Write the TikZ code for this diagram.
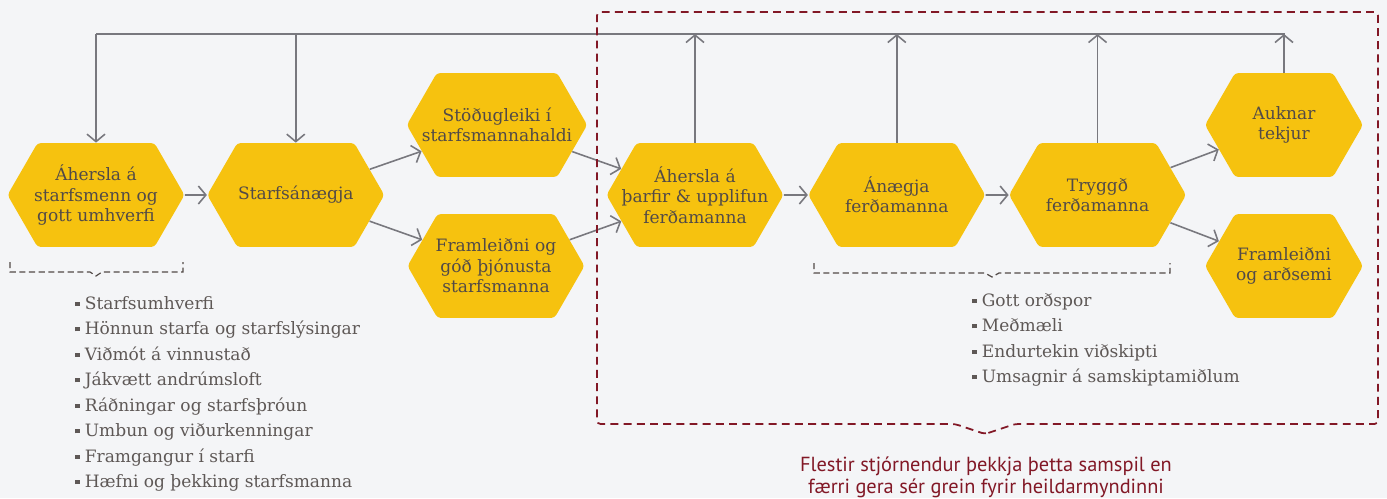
\documentclass[tikz,border=0pt]{standalone}
\usepackage{fontspec}
\setmainfont{DejaVu Serif}
\newfontfamily\notefont{PT Sans}
\usetikzlibrary{shapes.symbols, arrows.meta, positioning}

\definecolor{hexyellow}{HTML}{F6C20F}
\definecolor{hextext}{HTML}{524A47}
\definecolor{listgray}{HTML}{5E5856}
\definecolor{linegray}{HTML}{78787E}
\definecolor{darkred}{HTML}{821826}
\definecolor{paper}{HTML}{F4F5F7}

\newcommand{\listbullet}{\raisebox{0.2em}{\rule{2.4pt}{2.4pt}}\hspace{3pt}}

\begin{document}
\begin{tikzpicture}[
    x=0.02cm, y=-0.02cm,
    hexagon/.style={signal, signal to=west and east, signal pointer angle=120,
        fill=hexyellow, rounded corners=2pt, text=hextext, align=center,
        inner xsep=-0.3cm, inner ysep=0pt, minimum width=3.54cm, minimum height=2.08cm,
        font=\fontsize{9.7}{11.6}\selectfont},
    smallhexagon/.style={hexagon, minimum width=3.16cm},
    arrowstyle/.style={draw=linegray, line width=0.9pt,
        -{Straight Barb[length=0.15cm, width=0.36cm]}},
    wire/.style={draw=linegray, line width=0.8pt},
    bracestyle/.style={draw=hextext, line width=0.7pt, dash pattern=on 3.5pt off 2pt},
    boxstyle/.style={draw=darkred, line width=1pt, dash pattern=on 4.5pt off 3pt},
    listing/.style={align=left, anchor=north west, inner sep=0pt, text=listgray,
        font=\fontsize{9.7}{14.5}\selectfont},
    note/.style={align=center, text=darkred, font=\notefont\fontsize{11.6}{12.6}\selectfont}
]
\useasboundingbox[fill=paper] (0,0) rectangle (1387,498);

% staff side
\node (Staff) [hexagon] at (96,195) {Áhersla á\\starfsmenn og\\gott umhverfi};
\node (Satisfaction) [hexagon, right=0.44cm of Staff] {Starfsánægja};
\node (Stability) [hexagon] at (497,125) {Stöðugleiki í\\starfsmannahaldi};
\node (Service) [hexagon] at (496,266) {Framleiðni og\\góð þjónusta\\starfsmanna};

% guest side
\node (Needs) [hexagon] at (695,195) {Áhersla á\\þarfir \& upplifun\\ferðamanna};
\node (Delight) [hexagon, right=0.48cm of Needs] {Ánægja\\ferðamanna};
\node (Loyalty) [hexagon, right=0.46cm of Delight] {Tryggð\\ferðamanna};
\node (Revenue) [smallhexagon] at (1284,125) {Auknar\\tekjur};
\node (Profit) [smallhexagon] at (1284,266) {Framleiðni\\og arðsemi};

\draw[arrowstyle] (Staff) -- (Satisfaction);
\draw[arrowstyle] (Satisfaction) -- (Stability);
\draw[arrowstyle] (Satisfaction) -- (Service);
\draw[arrowstyle] (Stability) -- (Needs);
\draw[arrowstyle] (Service) -- (Needs);
\draw[arrowstyle] (Needs) -- (Delight);
\draw[arrowstyle] (Delight) -- (Loyalty);
\draw[arrowstyle] (Loyalty) -- (Revenue);
\draw[arrowstyle] (Loyalty) -- (Profit);

% feedback loop along the top
\coordinate (Top) at (0,34);
\draw[wire] (Staff.north |- Top) -- (Revenue.north |- Top) -- (Revenue.north);
\draw[arrowstyle] (Staff.north |- Top) -- (Staff.north);
\draw[arrowstyle] (Satisfaction.north |- Top) -- (Satisfaction.north);
\foreach \n in {Needs, Delight, Loyalty, Revenue}
    \draw[arrowstyle] (\n.north) -- (\n.north |- Top);

% braces
\draw[bracestyle] (10,262) -- (10,272) -- (90,272) -- (96,276) -- (102,272) -- (183,272) -- (183,262);
\draw[bracestyle] (814,263) -- (814,273) -- (985,273) -- (992,277) -- (999,273) -- (1170,273) -- (1170,263);

\node (StaffList) [listing] at (75,296) {\listbullet Starfsumhverfi\\
    \listbullet Hönnun starfa og starfslýsingar\\
    \listbullet Viðmót á vinnustað\\
    \listbullet Jákvætt andrúmsloft\\
    \listbullet Ráðningar og starfsþróun\\
    \listbullet Umbun og viðurkenningar\\
    \listbullet Framgangur í starfi\\
    \listbullet Hæfni og þekking starfsmanna};
\node (GuestList) [listing] at (972,293) {\listbullet Gott orðspor\\
    \listbullet Meðmæli\\
    \listbullet Endurtekin viðskipti\\
    \listbullet Umsagnir á samskiptamiðlum};

% red frame round the guest side
\draw[boxstyle, rounded corners=2pt] (985,434) -- (1015,424) -- (1378,424) -- (1378,12)
    -- (597,12) -- (597,424) -- (955,424) -- cycle;
\node (Note) [note] at (986,477) {Flestir stjórnendur þekkja þetta samspil en\\færri gera sér grein fyrir heildarmyndinni};
\end{tikzpicture}
\end{document}
